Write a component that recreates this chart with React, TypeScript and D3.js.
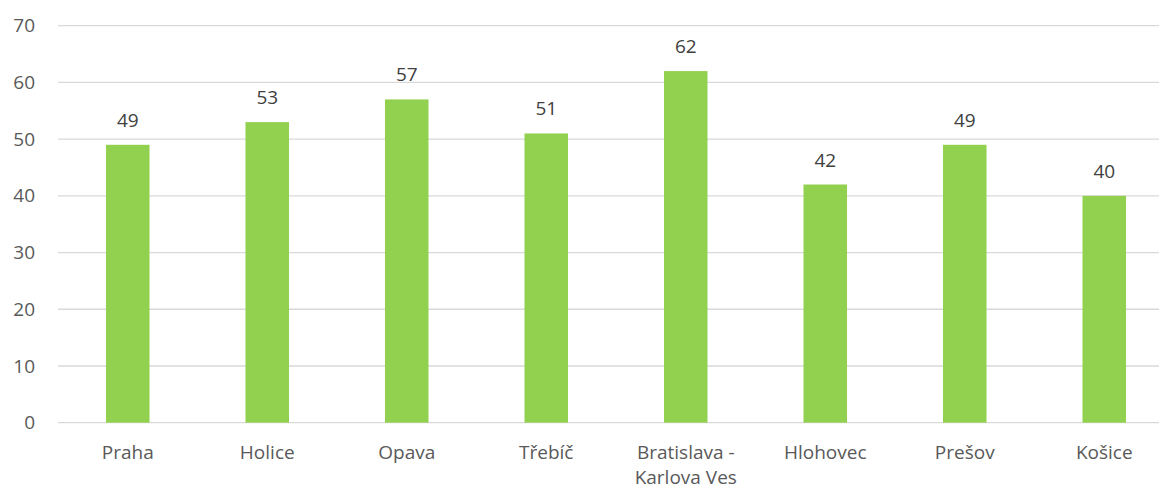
import React, { useRef, useEffect } from "react";
import * as d3 from "d3";

const categories = ["Praha", "Holice", "Opava", "Třebíč", "Bratislava - Karlova Ves", "Hlohovec", "Prešov", "Košice"];
const values = [49, 53, 57, 51, 62, 42, 49, 40];
const yTicks = [0, 10, 20, 30, 40, 50, 60, 70];

const W = 1159;
const H = 491;

const App = () => {
	const svgRef = useRef<SVGSVGElement>(null);

	useEffect(() => {
		const svg = d3.select(svgRef.current);
		svg.selectChildren().remove();

		const font = "'Open Sans', 'DejaVu Sans', sans-serif";
		const textColor = "#595959";

		const x = d3.scaleBand<string>()
			.domain(categories)
			.range([58, 1174])
			.paddingInner(0.688)
			.paddingOuter(0.344);
		const y = d3.scaleLinear()
			.domain([0, 70])
			.range([422.7, 25.7]);

		// gridlines
		svg.append("g")
			.selectAll("line")
			.data(yTicks)
			.join("line")
			.attr("x1", 58)
			.attr("x2", W)
			.attr("y1", d => y(d))
			.attr("y2", d => y(d))
			.attr("stroke", "#d9d9d9")
			.attr("stroke-width", 1.3);

		// y tick labels
		svg.append("g")
			.selectAll("text")
			.data(yTicks)
			.join("text")
			.attr("x", 35)
			.attr("y", d => y(d))
			.attr("dy", "0.35em")
			.attr("text-anchor", "end")
			.attr("font-family", font)
			.attr("font-size", 19)
			.attr("fill", textColor)
			.text(d => d);

		// bars
		svg.append("g")
			.selectAll("rect")
			.data(values)
			.join("rect")
			.attr("x", (d, i) => x(categories[i])!)
			.attr("width", x.bandwidth())
			.attr("y", d => y(d))
			.attr("height", d => y(0) - y(d))
			.attr("fill", "#92d050");

		// value labels
		svg.append("g")
			.selectAll("text")
			.data(values)
			.join("text")
			.attr("x", (d, i) => x(categories[i])! + x.bandwidth() / 2)
			.attr("y", d => y(d) - 18)
			.attr("text-anchor", "middle")
			.attr("font-family", font)
			.attr("font-size", 19)
			.attr("fill", "#404040")
			.text(d => d);

		// category labels (wrapped on " - ")
		const cat = svg.append("g")
			.selectAll("text")
			.data(categories)
			.join("text")
			.attr("x", d => x(d)! + x.bandwidth() / 2)
			.attr("y", 459)
			.attr("text-anchor", "middle")
			.attr("font-family", font)
			.attr("font-size", 19)
			.attr("fill", textColor);
		cat.each(function (d) {
			const el = d3.select(this);
			const cx = x(d)! + x.bandwidth() / 2;
			const parts = d.includes(" - ") ? [d.split(" - ")[0] + " -", d.split(" - ")[1]] : [d];
			parts.forEach((p, i) => {
				el.append("tspan").attr("x", cx).attr("dy", i === 0 ? 0 : 25).text(p);
			});
		});
	}, []);

	return (
		<svg ref={svgRef} width={W} height={H} style={{ position: "absolute", left: 0, top: 0, background: "#fff" }}></svg>
	);
};

export default App;
